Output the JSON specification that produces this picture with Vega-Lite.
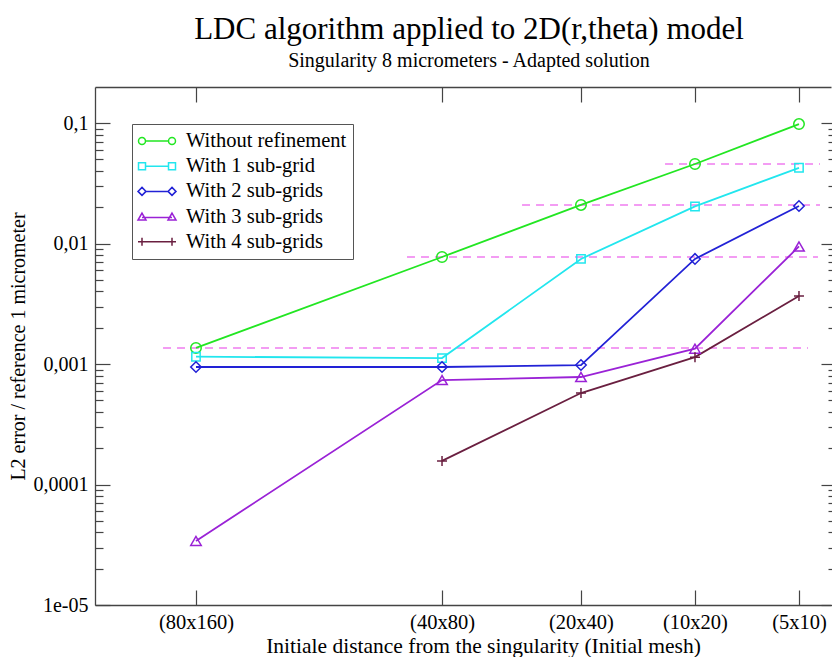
{
  "$schema": "https://vega.github.io/schema/vega-lite/v6.json",
  "width": 736,
  "height": 518,
  "autosize": {"type": "none"},
  "padding": {"left": 95, "top": 87, "right": 1, "bottom": 52},
  "background": "white",
  "config": {
    "view": {"stroke": null},
    "font": "Liberation Serif",
    "axis": {
      "grid": false,
      "domainColor": "#444",
      "tickColor": "#444",
      "domainWidth": 1.3,
      "tickWidth": 1.2,
      "labelColor": "black",
      "labelFont": "Liberation Serif",
      "labelFontSize": 20,
      "titleFont": "Liberation Serif",
      "titleFontSize": 20,
      "titleFontWeight": "normal",
      "titleColor": "black"
    }
  },
  "title": {
    "text": "LDC algorithm applied to 2D(r,theta) model",
    "subtitle": "Singularity 8 micrometers - Adapted solution",
    "font": "Liberation Serif",
    "fontSize": 31,
    "fontWeight": "normal",
    "color": "black",
    "subtitleFont": "Liberation Serif",
    "subtitleFontSize": 20,
    "subtitleColor": "black",
    "subtitlePadding": 5,
    "anchor": "middle",
    "frame": "group",
    "dx": 6,
    "offset": 14
  },
  "datasets": {
    "pts": [
      {"series": "Without refinement", "mesh": "(80x160)", "d": 13.72, "err": 0.00136},
      {"series": "Without refinement", "mesh": "(40x80)", "d": 47.15, "err": 0.00773},
      {"series": "Without refinement", "mesh": "(20x40)", "d": 66.03, "err": 0.0209},
      {"series": "Without refinement", "mesh": "(10x20)", "d": 81.52, "err": 0.0457},
      {"series": "Without refinement", "mesh": "(5x10)", "d": 95.65, "err": 0.098},
      {"series": "With 1 sub-grid", "mesh": "(80x160)", "d": 13.72, "err": 0.00115},
      {"series": "With 1 sub-grid", "mesh": "(40x80)", "d": 47.15, "err": 0.00112},
      {"series": "With 1 sub-grid", "mesh": "(20x40)", "d": 66.03, "err": 0.00745},
      {"series": "With 1 sub-grid", "mesh": "(10x20)", "d": 81.52, "err": 0.0203},
      {"series": "With 1 sub-grid", "mesh": "(5x10)", "d": 95.65, "err": 0.0425},
      {"series": "With 2 sub-grids", "mesh": "(80x160)", "d": 13.72, "err": 0.000944},
      {"series": "With 2 sub-grids", "mesh": "(40x80)", "d": 47.15, "err": 0.000944},
      {"series": "With 2 sub-grids", "mesh": "(20x40)", "d": 66.03, "err": 0.00098},
      {"series": "With 2 sub-grids", "mesh": "(10x20)", "d": 81.52, "err": 0.00745},
      {"series": "With 2 sub-grids", "mesh": "(5x10)", "d": 95.65, "err": 0.0205},
      {"series": "With 3 sub-grids", "mesh": "(80x160)", "d": 13.72, "err": 0.000034},
      {"series": "With 3 sub-grids", "mesh": "(40x80)", "d": 47.15, "err": 0.000736},
      {"series": "With 3 sub-grids", "mesh": "(20x40)", "d": 66.03, "err": 0.00078},
      {"series": "With 3 sub-grids", "mesh": "(10x20)", "d": 81.52, "err": 0.00134},
      {"series": "With 3 sub-grids", "mesh": "(5x10)", "d": 95.65, "err": 0.00945},
      {"series": "With 4 sub-grids", "mesh": "(40x80)", "d": 47.15, "err": 0.000157},
      {"series": "With 4 sub-grids", "mesh": "(20x40)", "d": 66.03, "err": 0.000574},
      {"series": "With 4 sub-grids", "mesh": "(10x20)", "d": 81.52, "err": 0.00114},
      {"series": "With 4 sub-grids", "mesh": "(5x10)", "d": 95.65, "err": 0.00367}
    ],
    "refs": [
      {"v": 0.00136, "x1": 9.24, "x2": 96.88},
      {"v": 0.00773, "x1": 42.39, "x2": 98.23},
      {"v": 0.0209, "x1": 58.02, "x2": 98.51},
      {"v": 0.0457, "x1": 77.45, "x2": 98.51}
    ]
  },
  "layer": [
    {
      "data": {"name": "refs"},
      "mark": {"type": "rule", "color": "#f07cf0", "strokeDash": [8, 6], "strokeWidth": 1.5},
      "encoding": {
        "x": {
          "field": "x1", "type": "quantitative",
          "scale": {"domain": [0, 100], "nice": false, "zero": false},
          "axis": {
            "orient": "bottom",
            "values": [13.72, 47.15, 66.03, 81.52, 95.65],
            "tickSize": -15,
            "labelPadding": 22,
            "labelFontSize": 20.5,
            "labelExpr": "datum.value < 30 ? '(80x160)' : datum.value < 55 ? '(40x80)' : datum.value < 75 ? '(20x40)' : datum.value < 90 ? '(10x20)' : '(5x10)'",
            "title": "Initiale distance from the singularity (Initial mesh)",
            "titleFontSize": 21.5,
            "titleX": 388,
            "titlePadding": 3
          }
        },
        "x2": {"field": "x2"},
        "y": {
          "field": "v", "type": "quantitative",
          "scale": {"type": "log", "domain": [0.00001, 0.199], "nice": false},
          "axis": {
            "orient": "left",
            "values": [0.00001, 0.0001, 0.001, 0.01, 0.1],
            "tickSize": -15,
            "labelPadding": 22,
            "labelExpr": "datum.value > 0.05 ? '0,1' : datum.value > 0.005 ? '0,01' : datum.value > 0.0005 ? '0,001' : datum.value > 0.00005 ? '0,0001' : '1e-05'",
            "title": "L2 error / reference 1 micrometer",
            "titlePadding": 5
          }
        }
      }
    },
    {
      "data": {"name": "pts"},
      "mark": {"type": "line", "strokeWidth": 1.8},
      "encoding": {
        "x": {
          "field": "d", "type": "quantitative",
          "scale": {"domain": [0, 100], "nice": false, "zero": false},
          "axis": {"orient": "top", "values": [13.72, 47.15, 66.03, 81.52, 95.65], "tickSize": -15, "labels": false, "title": null}
        },
        "y": {
          "field": "err", "type": "quantitative",
          "scale": {"type": "log", "domain": [0.00001, 0.199], "nice": false},
          "axis": {
            "orient": "left",
            "values": [0.00002, 0.00003, 0.00004, 0.00005, 0.00006, 0.00007, 0.00008, 0.00009, 0.0002, 0.0003, 0.0004, 0.0005, 0.0006, 0.0007, 0.0008, 0.0009, 0.002, 0.003, 0.004, 0.005, 0.006, 0.007, 0.008, 0.009, 0.02, 0.03, 0.04, 0.05, 0.06, 0.07, 0.08, 0.09],
            "tickSize": -8, "labels": false, "domain": false, "title": null
          }
        },
        "color": {
          "field": "series", "type": "nominal",
          "scale": {
            "domain": ["Without refinement", "With 1 sub-grid", "With 2 sub-grids", "With 3 sub-grids", "With 4 sub-grids"],
            "range": ["#22e622", "#22e6ee", "#2222d6", "#9a22d6", "#6a1f40"]
          },
          "legend": {
            "orient": "none",
            "legendX": 37,
            "legendY": 37,
            "title": null,
            "labelFont": "Liberation Serif",
            "labelFontSize": 20.5,
            "labelLimit": 400,
            "labelColor": "black",
            "strokeColor": "#555",
            "fillColor": "white",
            "padding": 6,
            "rowPadding": 3.2,
            "symbolSize": 400,
            "symbolStrokeWidth": 1.5,
            "labelOffset": 26,
            "encode": {
              "symbols": {
                "update": {
                  "fill": {"value": "transparent"},
                  "shape": {"signal": "datum.value === 'Without refinement' ? 'M-0.35,0H1.95M-0.35,0A0.35,0.35,0,1,1,-1.05,0A0.35,0.35,0,1,1,-0.35,0M2.65,0A0.35,0.35,0,1,1,1.95,0A0.35,0.35,0,1,1,2.65,0' : datum.value === 'With 1 sub-grid' ? 'M-0.35,0H1.95M-1.05,-0.35H-0.35V0.35H-1.05ZM1.95,-0.35H2.65V0.35H1.95Z' : datum.value === 'With 2 sub-grids' ? 'M-0.3,0H1.9M-0.7,-0.4L-0.3,0L-0.7,0.4L-1.1,0ZM2.3,-0.4L2.7,0L2.3,0.4L1.9,0Z' : datum.value === 'With 3 sub-grids' ? 'M-0.7,0.1H2.3M-0.7,-0.35L-0.3,0.35H-1.1ZM2.3,-0.35L2.7,0.35H1.9Z' : 'M-1.1,0H2.7M-0.7,-0.4V0.4M2.3,-0.4V0.4'"}
                }
              }
            }
          }
        }
      }
    },
    {
      "data": {"name": "pts"},
      "transform": [{"filter": "datum.series === 'Without refinement'"}],
      "mark": {"type": "point", "shape": "circle", "filled": false, "strokeWidth": 1.5, "size": 110, "opacity": 1},
      "encoding": {
        "x": {"field": "d", "type": "quantitative", "scale": {"domain": [0, 100], "nice": false, "zero": false}, "axis": null},
        "y": {
          "field": "err", "type": "quantitative",
          "scale": {"type": "log", "domain": [0.00001, 0.199], "nice": false},
          "axis": {
            "orient": "right", "offset": 5,
            "values": [0.00001, 0.0001, 0.001, 0.01, 0.1],
            "tickSize": -15, "labels": false, "domain": false, "title": null
          }
        },
        "color": {"field": "series", "type": "nominal", "legend": null}
      }
    },
    {
      "data": {"name": "pts"},
      "transform": [{"filter": "datum.series === 'With 1 sub-grid'"}],
      "mark": {"type": "point", "shape": "square", "filled": false, "strokeWidth": 1.5, "size": 70, "opacity": 1},
      "encoding": {
        "x": {"field": "d", "type": "quantitative", "scale": {"domain": [0, 100], "nice": false, "zero": false}, "axis": null},
        "y": {
          "field": "err", "type": "quantitative",
          "scale": {"type": "log", "domain": [0.00001, 0.199], "nice": false},
          "axis": {
            "orient": "right", "offset": 5,
            "values": [0.00002, 0.00003, 0.00004, 0.00005, 0.00006, 0.00007, 0.00008, 0.00009, 0.0002, 0.0003, 0.0004, 0.0005, 0.0006, 0.0007, 0.0008, 0.0009, 0.002, 0.003, 0.004, 0.005, 0.006, 0.007, 0.008, 0.009, 0.02, 0.03, 0.04, 0.05, 0.06, 0.07, 0.08, 0.09],
            "tickSize": -8, "labels": false, "domain": false, "title": null
          }
        },
        "color": {"field": "series", "type": "nominal", "legend": null}
      }
    },
    {
      "data": {"name": "pts"},
      "transform": [{"filter": "datum.series === 'With 2 sub-grids'"}],
      "mark": {"type": "point", "shape": "diamond", "filled": false, "strokeWidth": 1.5, "size": 110, "opacity": 1},
      "encoding": {
        "x": {"field": "d", "type": "quantitative", "scale": {"domain": [0, 100], "nice": false, "zero": false}, "axis": null},
        "y": {"field": "err", "type": "quantitative", "scale": {"type": "log", "domain": [0.00001, 0.199], "nice": false}, "axis": null},
        "color": {"field": "series", "type": "nominal", "legend": null}
      }
    },
    {
      "data": {"name": "pts"},
      "transform": [{"filter": "datum.series === 'With 3 sub-grids'"}],
      "mark": {"type": "point", "shape": "triangle-up", "filled": false, "strokeWidth": 1.5, "size": 110, "opacity": 1},
      "encoding": {
        "x": {"field": "d", "type": "quantitative", "scale": {"domain": [0, 100], "nice": false, "zero": false}, "axis": null},
        "y": {"field": "err", "type": "quantitative", "scale": {"type": "log", "domain": [0.00001, 0.199], "nice": false}, "axis": null},
        "color": {"field": "series", "type": "nominal", "legend": null}
      }
    },
    {
      "data": {"name": "pts"},
      "transform": [{"filter": "datum.series === 'With 4 sub-grids'"}],
      "mark": {"type": "point", "shape": "M-1,0H1M0,-1V1", "filled": false, "strokeWidth": 1.5, "size": 100, "opacity": 1},
      "encoding": {
        "x": {"field": "d", "type": "quantitative", "scale": {"domain": [0, 100], "nice": false, "zero": false}, "axis": null},
        "y": {"field": "err", "type": "quantitative", "scale": {"type": "log", "domain": [0.00001, 0.199], "nice": false}, "axis": null},
        "color": {"field": "series", "type": "nominal", "legend": null}
      }
    }
  ],
  "resolve": {"axis": {"x": "independent", "y": "independent"}}
}
